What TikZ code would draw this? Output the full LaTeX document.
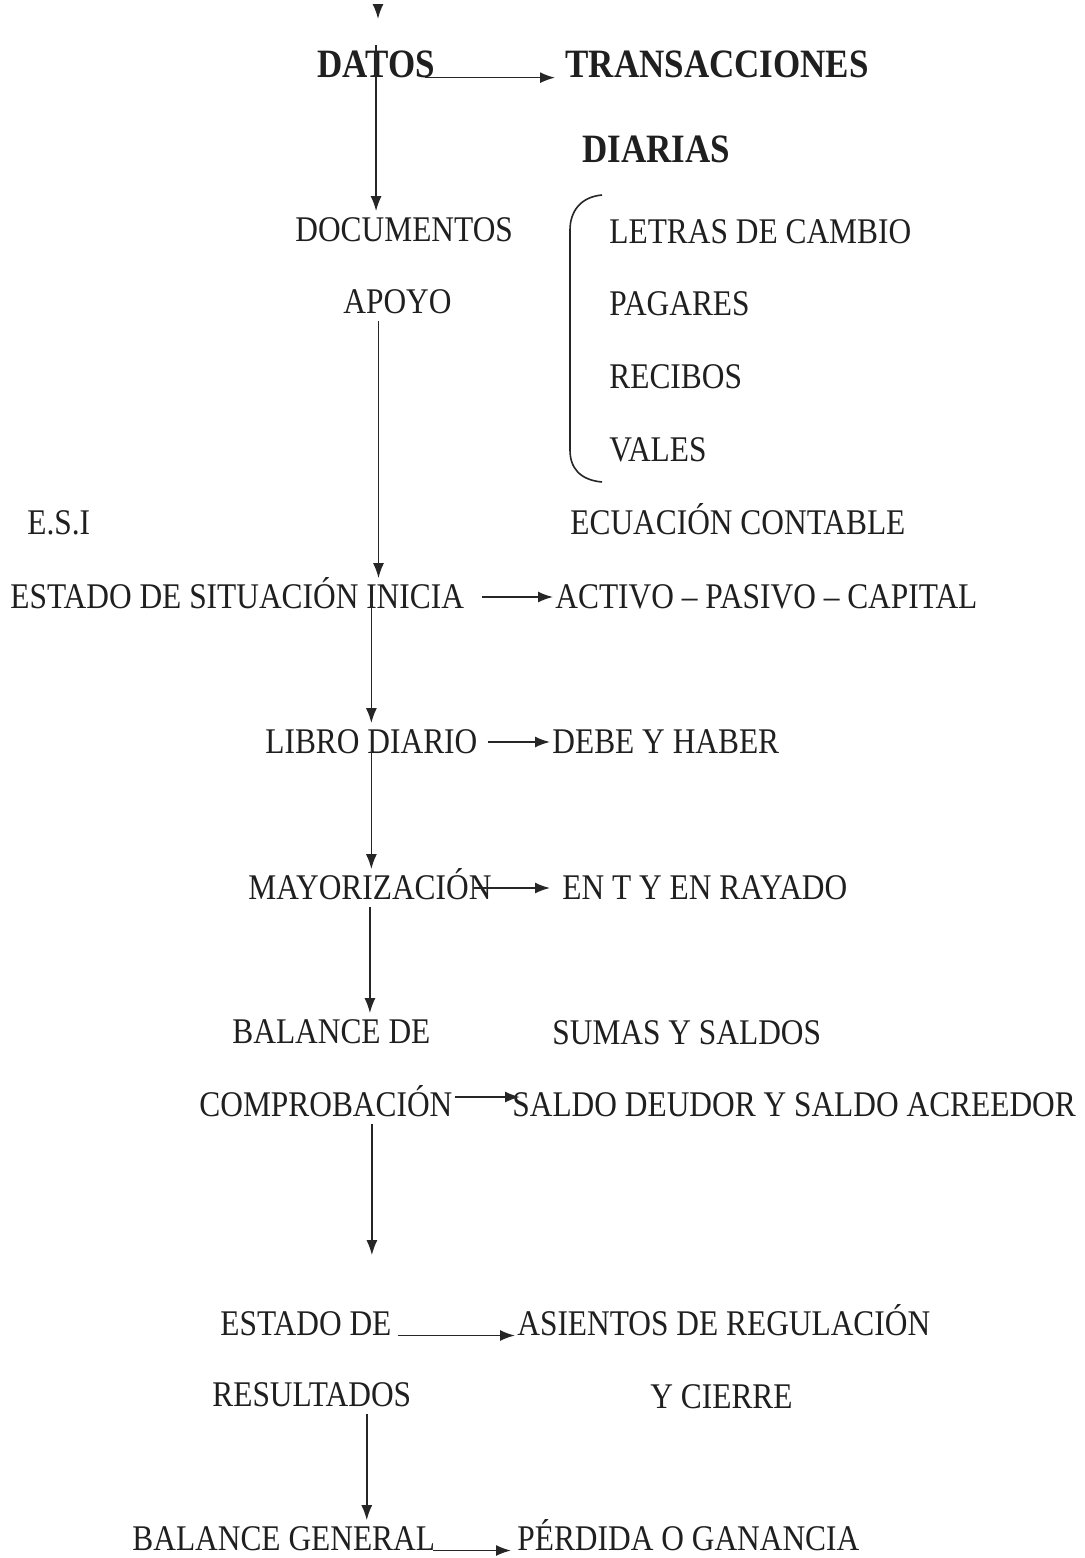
\documentclass[tikz,border=0pt]{standalone}
\usepackage{fontspec}
\setmainfont{Liberation Serif}
\usetikzlibrary{arrows.meta}

\begin{document}
\begin{tikzpicture}[x=0.5pt, y=-0.5pt,
    texto/.style={anchor=west, inner sep=1pt, text=black!88, text height=12pt, text depth=2pt,
        font=\fontsize{15.7}{19}\selectfont, yscale=1.15, transform shape},
    titulo/.style={texto, text height=13pt, font=\fontsize{17.5}{21}\selectfont\bfseries},
    flecha/.style={-{Latex[length=7.5pt, width=5.5pt]}, line width=0.8pt, draw=black!85}]
    \useasboundingbox (0,0) rectangle (1084,1558);

    \coordinate (entrada) at (378,4);
    \node[titulo] (datos) at (315,65) {DATOS};
    \node[titulo] (trans) at (563,65) {TRANSACCIONES};
    \node[titulo] (diarias) at (580,150) {DIARIAS};

    \node[texto] (docu) at (293,230) {DOCUMENTOS};
    \node[texto] (apoyo) at (341,302) {APOYO};
    \node[texto] (letras) at (607,232) {LETRAS DE CAMBIO};
    \node[texto] (pagares) at (607,304) {PAGARES};
    \node[texto] (recibos) at (607,377) {RECIBOS};
    \node[texto] (vales) at (607,450) {VALES};

    \node[texto] (esi) at (25,523) {E.S.I};
    \node[texto] (ecuacion) at (568,523) {ECUACIÓN CONTABLE};
    \node[texto] (situacion) at (8,597) {ESTADO DE SITUACIÓN INICIA};
    \node[texto] (activo) at (553,597) {ACTIVO – PASIVO – CAPITAL};

    \node[texto] (libro) at (263,742) {LIBRO DIARIO};
    \node[texto] (debe) at (550,742) {DEBE Y HABER};
    \node[texto] (mayor) at (246,888) {MAYORIZACIÓN};
    \node[texto] (ent) at (560,888) {EN T Y EN RAYADO};

    \node[texto] (balance) at (230,1032) {BALANCE DE};
    \node[texto] (sumas) at (550,1033) {SUMAS Y SALDOS};
    \node[texto] (comprob) at (197,1105) {COMPROBACIÓN};
    \node[texto] (saldo) at (510,1105) {SALDO DEUDOR Y SALDO ACREEDOR};

    \node[texto] (estado) at (218,1324) {ESTADO DE};
    \node[texto] (asientos) at (515,1324) {ASIENTOS DE REGULACIÓN};
    \node[texto] (result) at (210,1395) {RESULTADOS};
    \node[texto] (cierre) at (648,1397) {Y CIERRE};
    \node[texto] (general) at (130,1539) {BALANCE GENERAL};
    \node[texto] (perdida) at (515,1539) {PÉRDIDA O GANANCIA};

    \draw[line width=0.8pt, draw=black!85] (602,195) .. controls (580,197) and (570,212) .. (570,230)
        -- (570,450) .. controls (570,468) and (580,480) .. (602,482);

    \draw[flecha] (entrada) -- ++(0,15);
    \draw[flecha] (datos.north) -- (datos.north |- docu.north);
    \draw[flecha] ([xshift=-9.5pt]apoyo.south) -- ([xshift=-9.5pt]apoyo.south |- situacion.north);
    \draw[flecha] (libro.north |- situacion.center) -- (libro.north);
    \draw[flecha] (libro.center) -- (libro.center |- mayor.north);
    \draw[flecha] (mayor.south) -- (mayor.south |- balance.north);
    \draw[flecha, shorten >=25pt] ([xshift=23pt]comprob.south) -- ([xshift=23pt]comprob.south |- estado.north);
    \draw[flecha] ([xshift=27.5pt]result.south) -- ([xshift=27.5pt]result.south |- general.north);

    \draw[flecha, shorten <=-6pt, shorten >=4pt] (datos.base east) -- (trans.base west);
    \draw[flecha, shorten <=8pt] (situacion.east) -- (activo.west);
    \draw[flecha, shorten <=4pt] (libro.east) -- (debe.west);
    \draw[flecha, shorten <=-10pt, shorten >=5pt] (mayor.east) -- (ent.west);
    \draw[flecha, shorten >=-5pt] ([yshift=4pt]comprob.east) -- ([yshift=4pt]saldo.west);
    \draw[flecha, shorten <=2pt] (estado.base east) -- (asientos.base west);
    \draw[flecha, shorten <=-2pt, shorten >=2pt] (general.base east) -- (perdida.base west);
\end{tikzpicture}
\end{document}
